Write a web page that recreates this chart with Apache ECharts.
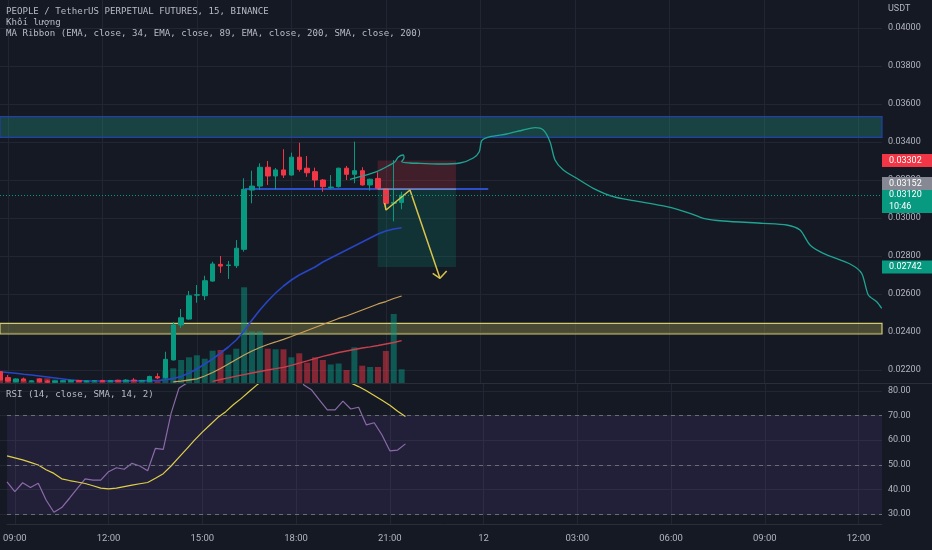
<!DOCTYPE html>
<html><head><meta charset="utf-8">
<script src="https://cdn.jsdelivr.net/npm/echarts@6/dist/echarts.min.js"></script>
<style>html,body{margin:0;padding:0;background:#151924;}#c{width:932px;height:550px;}</style>
</head><body><div id="c"></div>
<script>
// ---------- time categories (15-minute bars, day 11 08:45 -> day 12 12:45) ----------
const startDay = 11, startMinutes = 8 * 60 + 45, barMinutes = 15, barCount = 113;
const pad = n => (n < 10 ? '0' : '') + n;
const categories = [];
for (let i = 0; i < barCount; i++) {
  const m = startMinutes + i * barMinutes;
  const d = startDay + Math.floor(m / 1440);
  const mm = m % 1440;
  categories.push(d + ' ' + pad(Math.floor(mm / 60)) + ':' + pad(mm % 60));
}

// ---------- candles [open, close, low, high] ----------
const candles = [
  [0.02191,0.02147,0.02145,0.02196],[0.02160,0.02142,0.02138,0.02174],[0.02139,0.02153,0.02135,0.02156],
  [0.02153,0.02143,0.02140,0.02160],[0.02140,0.02143,0.02136,0.02146],[0.02153,0.02138,0.02134,0.02156],
  [0.02142,0.02136,0.02132,0.02148],[0.02136,0.02142,0.02133,0.02145],[0.02140,0.02143,0.02136,0.02146],
  [0.02140,0.02146,0.02137,0.02148],[0.02145,0.02140,0.02137,0.02148],[0.02139,0.02143,0.02135,0.02145],
  [0.02142,0.02144,0.02138,0.02147],[0.02145,0.02140,0.02137,0.02148],[0.02140,0.02145,0.02137,0.02147],
  [0.02146,0.02141,0.02138,0.02149],[0.02141,0.02147,0.02139,0.02152],[0.02147,0.02143,0.02140,0.02157],
  [0.02142,0.02145,0.02138,0.02148],[0.02140,0.02166,0.02138,0.02170],[0.02165,0.02158,0.02152,0.02183],
  [0.02160,0.02256,0.02155,0.02296],[0.02253,0.02437,0.02250,0.02453],[0.02437,0.02475,0.02421,0.02521],
  [0.02468,0.02591,0.02465,0.02616],[0.02594,0.02596,0.02554,0.02647],[0.02591,0.02670,0.02568,0.02696],
  [0.02668,0.02758,0.02665,0.02770],[0.02756,0.02747,0.02711,0.02800],[0.02750,0.02753,0.02679,0.02774],
  [0.02749,0.02841,0.02737,0.02884],[0.02835,0.03151,0.02823,0.03209],[0.03147,0.03168,0.03077,0.03249],
  [0.03168,0.03267,0.03147,0.03288],[0.03267,0.03221,0.03174,0.03300],[0.03221,0.03253,0.03151,0.03263],
  [0.03253,0.03226,0.03211,0.03362],[0.03226,0.03320,0.03223,0.03344],[0.03320,0.03256,0.03244,0.03396],
  [0.03262,0.03238,0.03217,0.03326],[0.03244,0.03200,0.03162,0.03265],[0.03200,0.03165,0.03138,0.03205],
  [0.03160,0.03163,0.03151,0.03226],[0.03165,0.03262,0.03160,0.03265],[0.03262,0.03230,0.03200,0.03274],
  [0.03230,0.03249,0.03183,0.03402],[0.03249,0.03174,0.03170,0.03267],[0.03174,0.03204,0.03144,0.03207],
  [0.03208,0.03156,0.03153,0.03241],[0.03153,0.03077,0.03042,0.03156],[0.03077,0.03082,0.02982,0.03305],
  [0.03082,0.03120,0.03046,0.03138]
];

// ---------- volume (millions) ----------
const volumes = [4.0,4.7,3.3,2.7,2.0,4.7,4.7,3.3,2.7,2.7,2.3,2.3,2.0,2.0,2.3,2.3,2.7,2.7,2.3,4.0,2.7,
  12,14.7,23,25.7,27.7,24.3,32.3,33,28.3,34.3,95.7,51.7,51.7,34.3,33.7,33.7,25.7,29.7,20.3,25.7,23,
  18.5,19.5,13,35.7,17.3,16,16,32,69,13.7];

// ---------- MA ribbon ----------
const ema34 = [0.021911,0.021868,0.021826,0.021779,0.021737,0.021684,0.021632,0.021579,0.021526,0.021474,
  0.021447,0.021421,0.021421,0.02142,0.02142,0.02142,0.02142,0.02143,0.02143,0.02144,0.02145,0.02148,
  0.021553,0.021658,0.021842,0.022053,0.022316,0.022579,0.022895,0.023211,0.023579,0.024053,0.024632,
  0.025158,0.025632,0.026053,0.026421,0.026737,0.027000,0.027211,0.027421,0.027684,0.027895,0.028105,
  0.028316,0.028526,0.028737,0.028947,0.029158,0.029316,0.029421,0.029489];
const ema89 = ['-','-','-','-','-','-','-','-','-','-','-','-','-','-','-','-','-','-','-','-','-','-',
  0.021370,0.021411,0.021474,0.021537,0.021684,0.021868,0.022079,0.022316,0.022553,0.022789,0.023000,
  0.023184,0.023342,0.023474,0.023616,0.023763,0.023921,0.024079,0.024237,0.024395,0.024553,0.024711,
  0.024842,0.025000,0.025158,0.025316,0.025474,0.025605,0.025763,0.025895];
const ema200 = ['-','-','-','-','-','-','-','-','-','-','-','-','-','-','-','-','-','-','-','-','-','-',
  '-','-','-','-','-',
  0.021405,0.021500,0.021589,0.021674,0.021758,0.021842,0.021921,0.022000,0.022068,0.022142,0.022247,
  0.022368,0.022484,0.022605,0.022711,0.022816,0.022921,0.023000,0.023079,0.023158,0.023221,0.023289,
  0.023368,0.023447,0.023542];

// ---------- RSI ----------
const rsi = [43.1,39.1,42.7,40.8,42.5,35.7,30.7,32.6,36.4,40.4,44.3,43.8,43.8,47.2,48.8,48.2,50.6,49.5,
  47.6,56.7,56.3,70.9,81.1,83.2,86.2,85.8,87.0,88.1,86.9,86.5,88.2,92.4,91.8,92.5,89.6,89.9,88.4,89.7,
  82.4,80.4,76.3,72.3,72.3,75.9,72.7,73.4,66.2,67.1,62.1,55.7,56.0,58.5];
const rsiSma = [53.6,52.8,52.0,51.0,49.9,48.0,46.5,44.3,43.6,43.0,42.4,41.5,40.5,40.2,40.5,41.1,41.7,
  42.3,42.8,44.5,46.4,49.5,53.0,56.5,60.0,63.3,66.3,69.3,71.6,74.5,77.0,79.8,82.5,84.8,86.5,87.6,88.3,
  88.7,88.6,88.2,87.5,86.6,85.5,84.5,83.3,81.8,80.1,78.2,76.2,74.2,71.8,69.6];
const rsiLevels = [70, 50, 30];

// ---------- axis ticks ----------
const priceTickMin = 0.022, priceTickMax = 0.040, priceTickStep = 0.002;
const rsiTickMin = 30, rsiTickMax = 80, rsiTickStep = 10;

// ---------- drawings (x = bar index, y = price) ----------
const supplyZone = [0.034247, 0.035332];
const demandZone = [0.023895, 0.024458];
const zoneSpan = [0, 112];
const hLinePrice = 0.03152;
const hLineSpan = [31.1, 62.0];
const positionSpan = [47.96, 57.9];
const stopPrice = 0.03302, entryPrice = 0.03152, targetPrice = 0.02742;
const zigzag = [[48.83,0.030789],[49.02,0.030421],[52.06,0.031474],[55.87,0.026826]];
const arrowHead = [[54.95,0.027089],[55.87,0.026826],[56.72,0.027211]];
const forecastPath = [[44.44,0.032037],[46.10,0.032211],[47.83,0.032437],[49.27,0.032737],[50.16,0.032963],
  [50.58,0.033211],[51.21,0.033316],[51.30,0.033158],[51.01,0.032963],[52.06,0.032895],[53.33,0.032879],
  [55.87,0.032842],[58.41,0.032895],[60.10,0.033158],[60.86,0.033489],[61.17,0.034068],[62.22,0.034279],
  [64.34,0.034421],[66.45,0.034632],[67.94,0.034753],[68.99,0.034632],[69.84,0.034016],[70.48,0.033053],
  [71.53,0.032526],[73.23,0.032089],[75.34,0.031563],[77.88,0.031121],[80.42,0.030911],[84.66,0.030595],
  [87.62,0.030247],[89.31,0.029984],[91.85,0.029842],[96.93,0.029721],[99.90,0.029632],[101.59,0.029368],
  [102.86,0.028579],[104.55,0.028142],[107.94,0.027579],[109.42,0.027089],[110.26,0.025947],
  [111.33,0.025595],[111.96,0.025247]];
// right-axis badge placements (shifted like TradingView does to avoid overlaps)
const countdownText = '10:46', countdownLevel = 0.030605, entryBadgeLevel = 0.031816;

// ---------- styling ----------
const UP = '#089981', DOWN = '#f23645';
const gridColor = '#222632', textColor = '#b2b5be';
const lastClose = candles[candles.length - 1][1];
const isMajor = (idx, val) => { const t = val.split(' ')[1]; return t.endsWith(':00') && parseInt(t, 10) % 3 === 0; };
const badge = (bg, text) => ({
  show: true, position: 'end', distance: 0, formatter: text, color: '#ffffff', backgroundColor: bg, opacity: 1,
  fontSize: 9, fontFamily: 'Roboto', lineHeight: 10, padding: [1.5, 7, 1.5, 7], width: 36, align: 'left'
});
const hiddenLine = {color: 'rgba(0,0,0,0)', width: 0, type: 'solid'};
const mono = '9.1px "DejaVu Sans Mono"';

const chart = echarts.init(document.getElementById('c'), null, {renderer: 'canvas'});
chart.setOption({
  backgroundColor: '#151924',
  animation: false,
  grid: [
    {left: 0, top: 0, width: 882, height: 383},
    {left: 0, top: 28, width: 882, height: 342},
    {left: 0, top: 384, width: 882, height: 140},
    {left: 0, top: 391, width: 882, height: 123}
  ],
  xAxis: [
    {gridIndex: 0, type: 'category', data: categories, boundaryGap: false,
     axisLine: {show: false}, axisTick: {show: false}, axisLabel: {show: false},
     splitLine: {show: true, interval: isMajor, lineStyle: {color: gridColor, width: 1}}},
    {gridIndex: 0, type: 'value', min: 0, max: barCount - 1, show: false},
    {gridIndex: 1, type: 'value', min: 0, max: 1, show: false},
    {gridIndex: 2, type: 'category', data: categories, boundaryGap: false,
     axisLine: {show: true, lineStyle: {color: '#2a2e39'}}, axisTick: {show: false},
     axisLabel: {interval: isMajor, margin: 10, color: textColor, fontSize: 9.5, fontFamily: 'Roboto',
       formatter: v => { const p = v.split(' '); return p[1] === '00:00' ? p[0] : p[1]; }},
     splitLine: {show: true, interval: isMajor, lineStyle: {color: gridColor, width: 1}}},
    {gridIndex: 3, type: 'value', min: 0, max: 1, show: false}
  ],
  yAxis: [
    {gridIndex: 0, type: 'value', min: 0.0213158, max: 0.0414737, show: false},
    {gridIndex: 0, type: 'value', min: 0, max: 383, show: false},
    {gridIndex: 1, type: 'value', position: 'right', min: priceTickMin, max: priceTickMax, interval: priceTickStep,
     axisLine: {show: false}, axisTick: {show: false},
     axisLabel: {margin: 6, color: textColor, fontSize: 9, fontFamily: 'Roboto', formatter: v => v.toFixed(5)},
     splitLine: {show: true, lineStyle: {color: gridColor, width: 1}}},
    {gridIndex: 2, type: 'value', min: 25.93, max: 82.85, show: false},
    {gridIndex: 3, type: 'value', position: 'right', min: rsiTickMin, max: rsiTickMax, interval: rsiTickStep,
     axisLine: {show: false}, axisTick: {show: false},
     axisLabel: {margin: 6, color: textColor, fontSize: 9, fontFamily: 'Roboto', formatter: v => v.toFixed(2)},
     splitLine: {show: true, lineStyle: {color: gridColor, width: 1}}}
  ],
  series: [
    {type: 'bar', name: 'volume', xAxisIndex: 0, yAxisIndex: 1, barWidth: 6, z: 1, silent: true,
     data: volumes.map((v, i) => ({value: v, itemStyle: {color: candles[i][1] >= candles[i][0] ? 'rgba(8,153,129,0.5)' : 'rgba(242,54,69,0.5)'}}))},
    {type: 'line', name: 'EMA 200', xAxisIndex: 0, yAxisIndex: 0, data: ema200, symbol: 'none', z: 3,
     lineStyle: {color: '#c8404d', width: 1.3}},
    {type: 'line', name: 'EMA 89', xAxisIndex: 0, yAxisIndex: 0, data: ema89, symbol: 'none', z: 3,
     lineStyle: {color: '#c9a05a', width: 1.3}},
    {type: 'line', name: 'EMA 34', xAxisIndex: 0, yAxisIndex: 0, data: ema34, symbol: 'none', z: 3,
     lineStyle: {color: '#2745c4', width: 1.6}},
    {type: 'line', name: 'hline', xAxisIndex: 1, yAxisIndex: 0, symbol: 'none', z: 3, silent: true,
     data: [[hLineSpan[0], hLinePrice], [hLineSpan[1], hLinePrice]],
     lineStyle: {color: '#2a4fc9', width: 2},
     markArea: {silent: true, z: 1, data: [
       [{xAxis: zoneSpan[0], yAxis: supplyZone[1], itemStyle: {color: 'rgba(38,166,140,0.30)', borderColor: '#2340a8', borderWidth: 1.2}},
        {xAxis: zoneSpan[1], yAxis: supplyZone[0]}],
       [{xAxis: zoneSpan[0], yAxis: demandZone[1], itemStyle: {color: 'rgba(195,190,90,0.30)', borderColor: '#d2ca72', borderWidth: 1.2}},
        {xAxis: zoneSpan[1], yAxis: demandZone[0]}],
       [{xAxis: positionSpan[0], yAxis: stopPrice, itemStyle: {color: 'rgba(242,54,69,0.20)'}},
        {xAxis: positionSpan[1], yAxis: entryPrice}],
       [{xAxis: positionSpan[0], yAxis: entryPrice, itemStyle: {color: 'rgba(8,153,129,0.20)'}},
        {xAxis: positionSpan[1], yAxis: targetPrice}]
     ]}},
    {type: 'candlestick', name: 'PEOPLEUSDT.P', xAxisIndex: 0, yAxisIndex: 0, data: candles, barWidth: 5, z: 4,
     itemStyle: {color: UP, color0: DOWN, borderColor: UP, borderColor0: DOWN, borderWidth: 1}},
    {type: 'line', name: 'entry', xAxisIndex: 1, yAxisIndex: 0, symbol: 'none', z: 5, silent: true,
     data: [[positionSpan[0], entryPrice], [positionSpan[1], entryPrice]],
     lineStyle: {color: '#9a9da6', width: 1},
     markLine: {silent: true, symbol: ['none', 'none'], z: 6, precision: 6, data: [
       {yAxis: lastClose, lineStyle: {type: [1, 2], color: UP, width: 1}, label: badge(UP, lastClose.toFixed(5))},
       {yAxis: countdownLevel, lineStyle: hiddenLine, label: badge(UP, countdownText)},
       {yAxis: stopPrice, lineStyle: hiddenLine, label: badge(DOWN, stopPrice.toFixed(5))},
       {yAxis: entryBadgeLevel, lineStyle: hiddenLine, label: badge('#868993', entryPrice.toFixed(5))},
       {yAxis: targetPrice, lineStyle: hiddenLine, label: badge(UP, targetPrice.toFixed(5))}
     ]}},
    {type: 'line', name: 'zigzag', xAxisIndex: 1, yAxisIndex: 0, symbol: 'none', z: 5, silent: true,
     data: zigzag, lineStyle: {color: '#d8c44a', width: 1.5}},
    {type: 'line', name: 'arrowhead', xAxisIndex: 1, yAxisIndex: 0, symbol: 'none', z: 5, silent: true,
     data: arrowHead, lineStyle: {color: '#d8c44a', width: 1.5}},
    {type: 'line', name: 'forecast', xAxisIndex: 1, yAxisIndex: 0, symbol: 'none', z: 5, silent: true,
     data: forecastPath, smooth: 0.25, lineStyle: {color: '#1fa493', width: 1.3}},
    {type: 'line', name: 'RSI', xAxisIndex: 3, yAxisIndex: 3, data: rsi, symbol: 'none', z: 3,
     lineStyle: {color: '#8a6aa8', width: 1.2},
     markArea: {silent: true, z: 1, data: [[{xAxis: categories[0], yAxis: 70, itemStyle: {color: 'rgba(126,87,194,0.13)'}},
       {xAxis: categories[barCount - 1], yAxis: 30}]]},
     markLine: {silent: true, symbol: ['none', 'none'], label: {show: false},
       lineStyle: {type: [4, 4], color: '#6a6d78', width: 1},
       data: rsiLevels.map(v => ({yAxis: v}))}},
    {type: 'line', name: 'RSI-based MA', xAxisIndex: 3, yAxisIndex: 3, data: rsiSma, symbol: 'none', z: 3,
     lineStyle: {color: '#e0cf4a', width: 1.2}}
  ],
  graphic: [
    {type: 'line', silent: true, z: 10, shape: {x1: 0, y1: 383.5, x2: 932, y2: 383.5}, style: {stroke: '#2a2e39', lineWidth: 1}},
    {type: 'text', left: 888, top: 4, z: 10, style: {text: 'USDT', fill: textColor, font: '9px Roboto'}},
    {type: 'text', left: 6, top: 7, z: 10, style: {text: 'PEOPLE / TetherUS PERPETUAL FUTURES, 15, BINANCE', fill: '#b8bbc4', font: mono}},
    {type: 'text', left: 6, top: 18, z: 10, style: {text: 'Khối lượng', fill: '#b8bbc4', font: mono}},
    {type: 'text', left: 6, top: 29, z: 10, style: {text: 'MA Ribbon (EMA, close, 34, EMA, close, 89, EMA, close, 200, SMA, close, 200)', fill: '#b8bbc4', font: mono}},
    {type: 'text', left: 6, top: 390, z: 10, style: {text: 'RSI (14, close, SMA, 14, 2)', fill: '#b8bbc4', font: mono}}
  ]
});
</script>
</body></html>
